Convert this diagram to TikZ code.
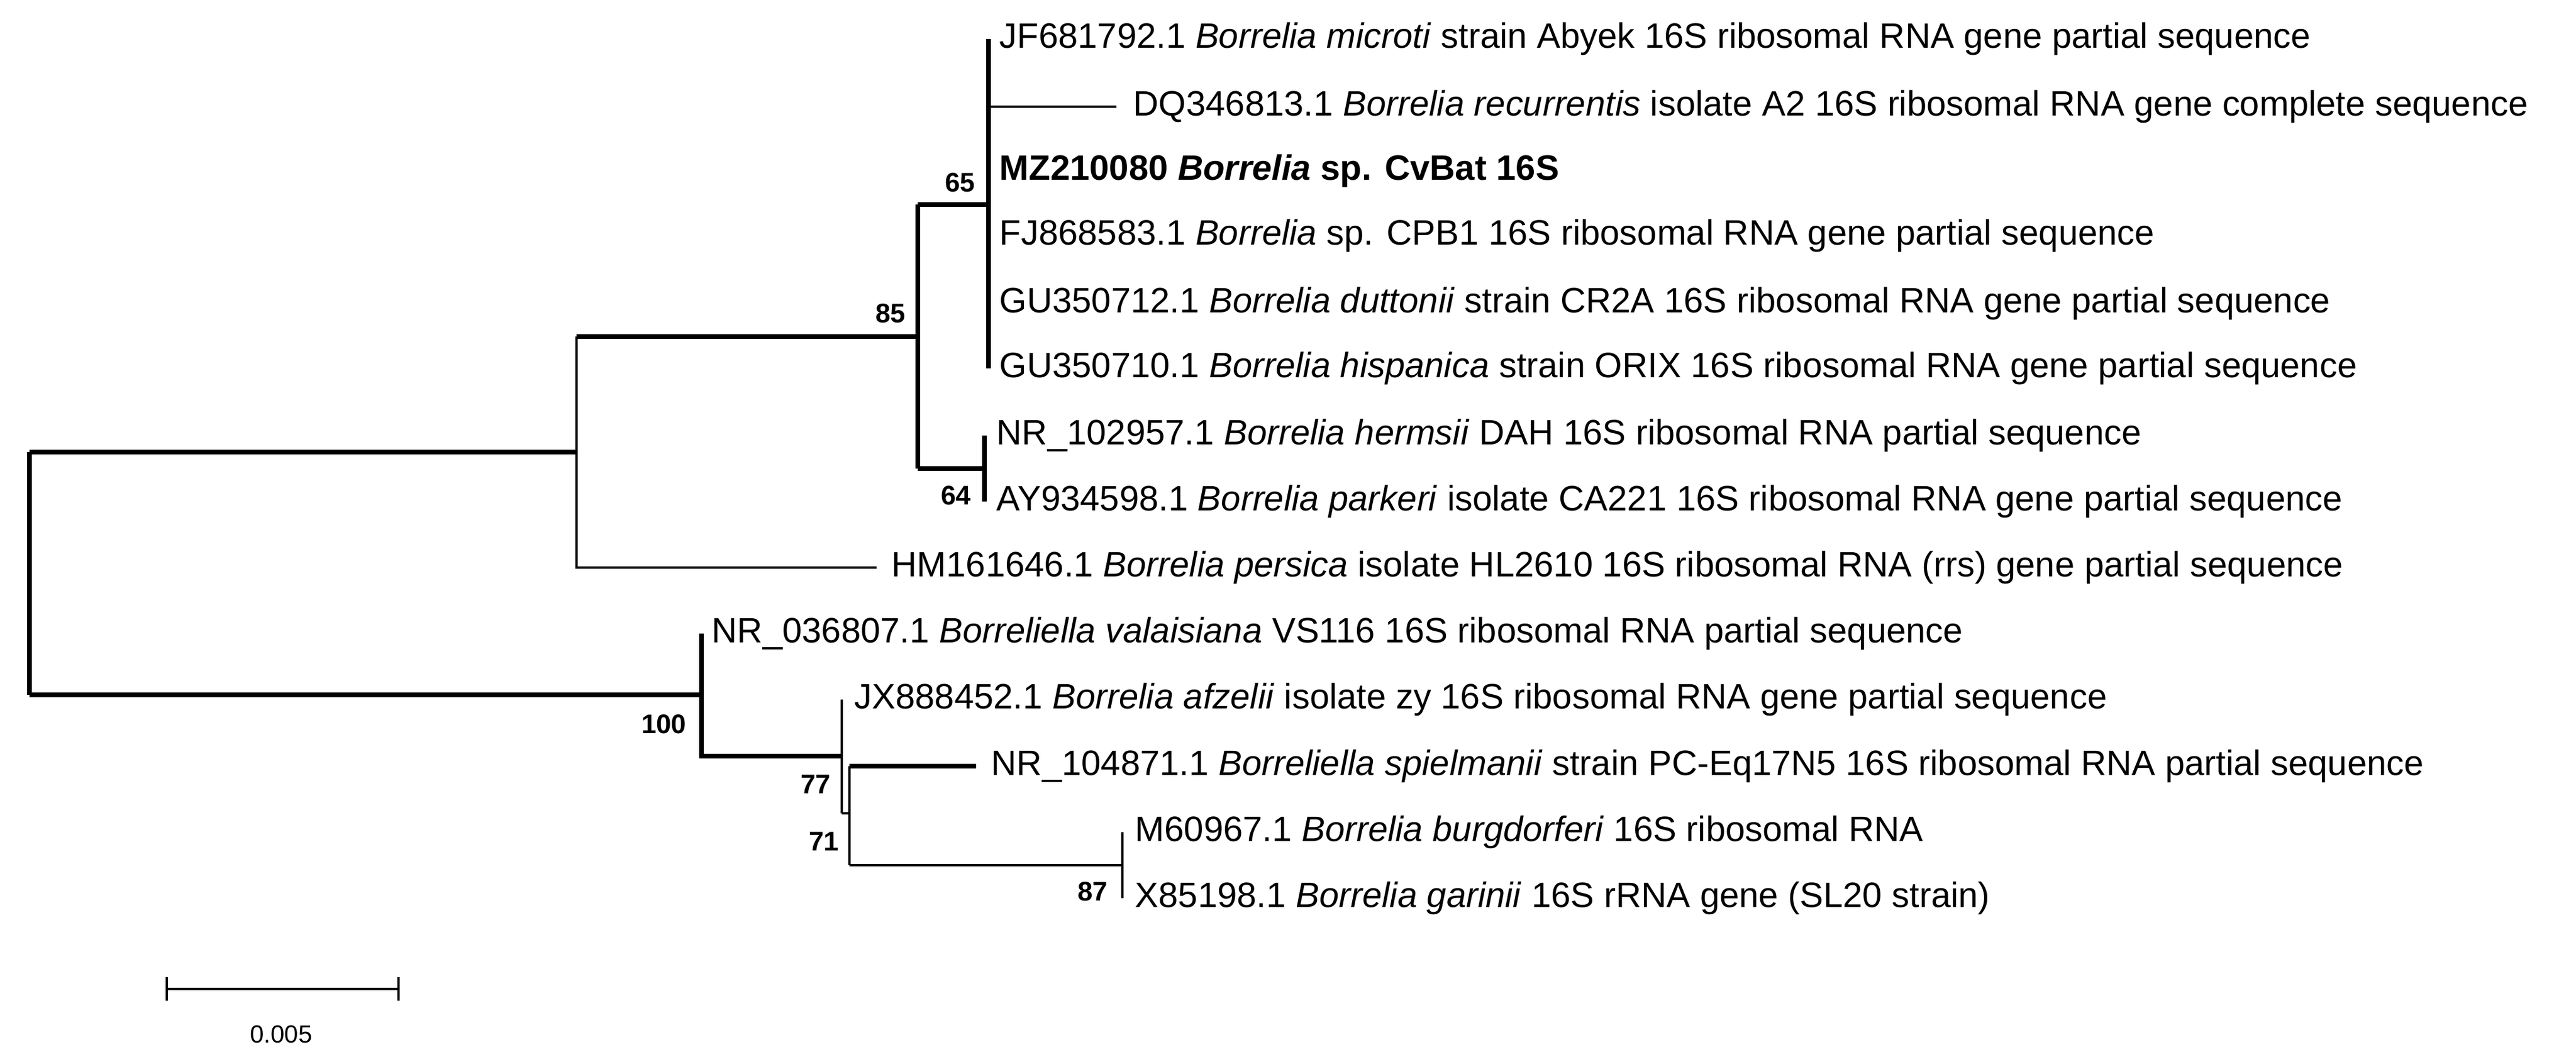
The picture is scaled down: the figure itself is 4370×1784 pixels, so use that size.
\documentclass[tikz,border=0pt]{standalone}
\usepackage{fontspec}
\setmainfont{Liberation Sans}
\tikzset{
  branch/.style={line width=2.2pt},
  twig/.style={line width=1pt},
  taxon/.style={anchor=west, inner sep=0pt, font=\fontsize{17}{20}\selectfont},
  boot/.style={inner sep=0pt, font=\fontsize{13}{15}\selectfont\bfseries}
}
\begin{document}
\begin{tikzpicture}[x=0.01cm, y=-0.01cm]
  \useasboundingbox (0,0) rectangle (4370,1784);
  % internal nodes
  \coordinate (root) at (50,767);
  \coordinate (nA) at (978,767);
  \coordinate (n85) at (1557,571);
  \coordinate (n65) at (1677,347);
  \coordinate (n64) at (1670,795);
  \coordinate (n100) at (1190,1179);
  \coordinate (n77) at (1428,1283);
  \coordinate (n71) at (1441,1380);
  \coordinate (n87) at (1904,1468);
  % leaves
  \node[taxon] (jf) at (1695,66) {JF681792.1 \textit{Borrelia microti} strain Abyek 16S ribosomal RNA gene partial sequence};
  \node[taxon] (dq) at (1922,181) {DQ346813.1 \textit{Borrelia recurrentis} isolate A2 16S ribosomal RNA gene complete sequence};
  \node[taxon, font=\fontsize{17}{20}\selectfont\bfseries] (mz) at (1695,290) {MZ210080 \textit{Borrelia} sp. CvBat 16S};
  \node[taxon] (fj) at (1695,400) {FJ868583.1 \textit{Borrelia} sp. CPB1 16S ribosomal RNA gene partial sequence};
  \node[taxon] (gua) at (1695,515) {GU350712.1 \textit{Borrelia duttonii} strain CR2A 16S ribosomal RNA gene partial sequence};
  \node[taxon] (gub) at (1695,625) {GU350710.1 \textit{Borrelia hispanica} strain ORIX 16S ribosomal RNA gene partial sequence};
  \node[taxon] (nra) at (1690,739) {NR\_102957.1 \textit{Borrelia hermsii} DAH 16S ribosomal RNA partial sequence};
  \node[taxon] (ay) at (1690,851) {AY934598.1 \textit{Borrelia parkeri} isolate CA221 16S ribosomal RNA gene partial sequence};
  \node[taxon] (hm) at (1512,963) {HM161646.1 \textit{Borrelia persica} isolate HL2610 16S ribosomal RNA (rrs) gene partial sequence};
  \node[taxon] (nrb) at (1207,1075) {NR\_036807.1 \textit{Borreliella valaisiana} VS116 16S ribosomal RNA partial sequence};
  \node[taxon] (jx) at (1449,1187) {JX888452.1 \textit{Borrelia afzelii} isolate zy 16S ribosomal RNA gene partial sequence};
  \node[taxon] (nrc) at (1681,1300) {NR\_104871.1 \textit{Borreliella spielmanii} strain PC-Eq17N5 16S ribosomal RNA partial sequence};
  \node[taxon] (m60) at (1925,1412) {M60967.1 \textit{Borrelia burgdorferi} 16S ribosomal RNA};
  \node[taxon] (x85) at (1925,1524) {X85198.1 \textit{Borrelia garinii} 16S rRNA gene (SL20 strain)};
  % tree
  \draw[branch] (root |- nA) -- (root |- n100);
  \draw[branch] (root) -- (nA);
  \draw[branch] (nA |- n85) -- (n85);
  \draw[twig] (nA |- n85) -- (nA |- hm) -- ([shift={(-25,0)}]hm.west);
  \draw[branch] (n85 |- n65) -- (n85 |- n64);
  \draw[branch] (n85 |- n65) -- (n65);
  \draw[branch] (n85 |- n64) -- (n64);
  \draw[branch] (n65 |- jf) -- (n65 |- gub);
  \draw[twig] (n65 |- dq) -- ([shift={(-28,0)}]dq.west);
  \draw[branch] (n64 |- nra) -- (n64 |- ay);
  \draw[branch] (root |- n100) -- (n100);
  \draw[branch] (n100 |- nrb) -- (n100 |- n77) -- (n77);
  \draw[twig] (n77 |- jx) -- (n77 |- n71);
  \draw[twig] (n77 |- n71) -- (n71);
  \draw[twig] (n71 |- nrc) -- (n71 |- n87);
  \draw[branch] (n71 |- nrc) -- ([shift={(-25,0)}]nrc.west);
  \draw[twig] (n71 |- n87) -- (n87);
  \draw[twig] (n87 |- m60) -- (n87 |- x85);
  % bootstrap values
  \node[boot, anchor=south east] (b65) at ([shift={(-22,-20)}]n65) {65};
  \node[boot, anchor=south east] (b85) at ([shift={(-20,-22)}]n85) {85};
  \node[boot, anchor=east] (b64) at ([shift={(-22,46)}]n64) {64};
  \node[boot, anchor=east] (b100) at ([shift={(-25,50)}]n100) {100};
  \node[boot, anchor=east] (b77) at ([shift={(-18,48)}]n77) {77};
  \node[boot, anchor=east] (b71) at ([shift={(-17,48)}]n71) {71};
  \node[boot, anchor=east] (b87) at ([shift={(-24,45)}]n87) {87};
  % scale bar
  \coordinate (sa) at (283,1678);
  \coordinate (sb) at (676,1678);
  \draw[twig] (sa) -- (sb);
  \draw[twig] ([shift={(0,-20)}]sa) -- ([shift={(0,20)}]sa);
  \draw[twig] ([shift={(0,-20)}]sb) -- ([shift={(0,20)}]sb);
  \node[font=\fontsize{12}{14}\selectfont] (sl) at (477,1755) {0.005};
\end{tikzpicture}
\end{document}
